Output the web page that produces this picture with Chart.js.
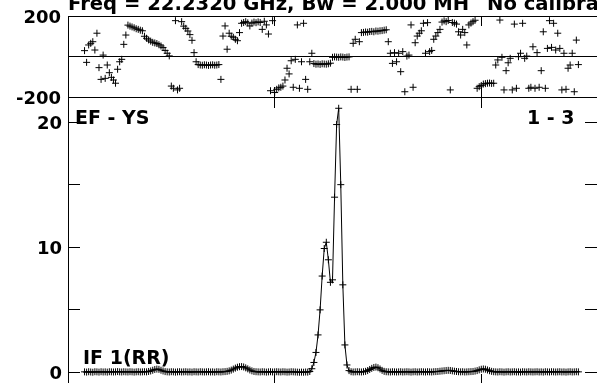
<!DOCTYPE html>
<html>
<head>
<meta charset="utf-8">
<script src="https://cdn.jsdelivr.net/npm/chart.js@4.4.1/dist/chart.umd.min.js"></script>
<style>
  html, body { margin: 0; padding: 0; background: #fff; overflow: hidden; }
  #plot { position: relative; width: 597px; height: 383px; overflow: hidden; background: #fff; }
  canvas { position: absolute; left: 0; }
  #phaseCanvas { top: 0; }
  #ampCanvas { top: 90px; }
  .lbl { position: absolute; font: bold 19px "DejaVu Sans", sans-serif; line-height: 20px; white-space: nowrap; color: #000; }
  .ttl { font-size: 19.6px; }
</style>
</head>
<body>
<div id="plot">
  <canvas id="ampCanvas" width="602" height="300"></canvas>
  <canvas id="phaseCanvas" width="602" height="110"></canvas>
  <div class="lbl ttl" style="left:68px;top:-6px">Freq = 22.2320 GHz, Bw = 2.000 MH</div>
  <div class="lbl ttl" style="left:487px;top:-6px">No calibration</div>
  <div class="lbl" style="left:75px;top:107px">EF - YS</div>
  <div class="lbl" style="left:527px;top:107px">1 - 3</div>
  <div class="lbl" style="left:83px;top:347px">IF 1(RR)</div>
</div>
<script>
// channel numbers run from firstChannel upward, one value per channel
const firstChannel = 8;
const xTickValues = [100, 200];
const phaseTicks = [-200, 0, 200];
const ampTicks = [0, 5, 10, 15, 20];

// phase (deg), channels 8..247
const phaseDeg = [
  29, -29, 57, 65, 73, 32, 115, -55, -113, 7,
  -108, -42, -80, -103, -116, -132, -63, -26, -14, 60,
  106, 155, 150, 146, 142, 137, 134, 130, 127, 100,
  90, 82, 76, 70, 67, 64, 58, 52, 44, 30,
  16, 3, -146, -157, 177, -165, -157, 172, 150, 139,
  126, 108, 80, 19, -26, -40, -42, -43, -41, -42,
  -44, -42, -41, -43, -42, -40, -113, 101, 151, 36,
  115, 100, 95, 85, 78, 118, 164, 168, 172, 166,
  151, 165, 170, 167, 171, 168, 134, 174, 156, 111,
  -169, 177, -178, -162, -155, -152, -146, -116, -58, -86,
  -21, -152, -14, 156, -157, -26, 164, -113, -162, -26,
  16, -35, -38, -37, -39, -36, -37, -38, -36, -33,
  -4, -2, -3, -4, -2, -3, -5, -3, -2, -162,
  65, 85, -162, 73, 118, 119, 121, 120, 123, 124,
  122, 126, 125, 127, 128, 130, 132, 73, 16, -34,
  19, -26, 16, -75, 24, -174, 2, 7, 156, -152,
  68, 101, 115, 127, 164, 16, 167, 24, 30, 85,
  101, 118, 134, 170, 176, 172, 178, -165, 168, 165,
  160, 122, 106, 134, 118, 57, 156, 165, 172, 179,
  -157, -149, -143, -136, -134, -132, -131, -133, -132, -42,
  -17, 180, -4, -165, -70, -31, -9, -165, 160, -157,
  -1, 16, 164, -9, 2, -157, -152, 48, -157, 19,
  -152, -70, 122, -157, 40, 177, 45, 164, 32, 115,
  40, -165, 16, -162, -58, -42, 16, -174, 81, -40
];

// amplitude, channels 8..247
const amplitude = [
  0.05, 0.03, 0.06, 0.04, 0.02, 0.06, 0.05, 0.03, 0.06, 0.04, 0.05, 0.03, 0.06, 0.05, 0.04, 0.05, 0.07, 0.05, 0.04, 0.06, 0.05,
  0.04, 0.06, 0.05, 0.03, 0.05, 0.06, 0.04, 0.05, 0.06, 0.05,
  0.08, 0.12, 0.18, 0.24, 0.27, 0.25, 0.18, 0.12, 0.07,
  0.05, 0.04, 0.06, 0.05, 0.03, 0.05, 0.06, 0.04, 0.05, 0.06,
  0.04, 0.05, 0.03, 0.06, 0.05, 0.04, 0.06, 0.05, 0.04, 0.05,
  0.06, 0.04, 0.05, 0.03, 0.06, 0.05, 0.04, 0.06, 0.07, 0.09,
  0.13, 0.19, 0.27, 0.35, 0.42, 0.46, 0.47, 0.44, 0.37, 0.29, 0.2, 0.13, 0.08,
  0.06, 0.05, 0.04, 0.06, 0.05, 0.03, 0.05, 0.06, 0.04, 0.05,
  0.06, 0.05, 0.04, 0.06, 0.05, 0.03, 0.04, 0.06, 0.05, 0.04,
  0.03, 0.02, 0.03, 0.02, 0.04, 0.03, 0.08,
  0.3,
  0.8, 1.6, 3.0, 5.0, 7.7, 9.9, 10.4, 9.0, 7.2, 7.4, 14.0, 19.8, 21.1, 15.0, 7.0, 2.2, 0.6, 0.15,
  0.06, 0.04, 0.05, 0.06, 0.05, 0.04, 0.06,
  0.09, 0.15, 0.24, 0.33, 0.4, 0.43, 0.38, 0.28, 0.17, 0.09,
  0.06, 0.05, 0.04, 0.06, 0.05, 0.04, 0.05, 0.06, 0.04, 0.05,
  0.06, 0.05, 0.03, 0.05, 0.06, 0.04, 0.05, 0.06, 0.05, 0.04,
  0.06, 0.05, 0.04, 0.06, 0.07, 0.08,
  0.1, 0.12, 0.14, 0.16, 0.17, 0.16, 0.13, 0.1, 0.08,
  0.06, 0.05, 0.06, 0.04, 0.05, 0.06, 0.07, 0.08,
  0.11, 0.15, 0.21, 0.26, 0.28, 0.26, 0.2, 0.14, 0.09, 0.06,
  0.05, 0.04, 0.06, 0.05, 0.03, 0.05, 0.06, 0.04, 0.05, 0.06,
  0.04, 0.05, 0.03, 0.06, 0.05, 0.04, 0.06, 0.05, 0.04, 0.05,
  0.06, 0.04, 0.05, 0.03, 0.06, 0.05, 0.04, 0.06, 0.05, 0.04,
  0.05, 0.06, 0.04, 0.05, 0.03, 0.05, 0.06, 0.04, 0.05, 0.06,
  0.05
];

const tickFont = { family: 'DejaVu Sans', weight: 'bold', size: 18 };

function toPoints(values) {
  return values.map((v, i) => ({ x: firstChannel + i, y: v }));
}

function setTicks(values) {
  return scale => { scale.ticks = values.map(v => ({ value: v })); };
}

// pin a scale's box size and drop the label overhang padding
function pinBox(width, height) {
  return s => {
    if (width !== null) s.width = width;
    if (height !== null) s.height = height;
    s.paddingTop = 0; s.paddingBottom = 0; s.paddingLeft = 0; s.paddingRight = 0;
  };
}

// x axis with short inward ticks, no labels
function channelAxis(position, tickLen) {
  return {
    type: 'linear',
    position: position,
    min: 0,
    max: 256,
    afterBuildTicks: setTicks(xTickValues),
    afterFit: pinBox(null, 0),
    ticks: { display: false },
    grid: { drawOnChartArea: false, drawTicks: true, tickLength: tickLen, tickColor: '#000', tickWidth: 1 },
    border: { display: true, color: '#000', width: 1 }
  };
}

function valueAxis(position, min, max, tickValues, tickLen, opts) {
  return Object.assign({
    type: 'linear',
    position: position,
    min: min,
    max: max,
    afterBuildTicks: setTicks(tickValues),
    afterFit: pinBox(position === 'left' ? 68 : 3, null),
    ticks: { display: false },
    grid: { drawOnChartArea: false, drawTicks: true, tickLength: tickLen, tickColor: '#000', tickWidth: 1 },
    border: { display: true, color: '#000', width: 1 }
  }, opts || {});
}

const common = {
  responsive: false,
  animation: false,
  events: [],
  plugins: { legend: { display: false }, tooltip: { enabled: false }, title: { display: false } }
};

// upper panel: phase
new Chart(document.getElementById('phaseCanvas'), {
  type: 'line',
  data: {
    datasets: [{
      data: toPoints(phaseDeg),
      xAxisID: 'x',
      yAxisID: 'y',
      showLine: false,
      pointStyle: 'cross',
      pointRadius: 3.5,
      pointBorderWidth: 1,
      pointBorderColor: '#000',
      borderColor: '#000',
      clip: 4
    }]
  },
  options: Object.assign({}, common, {
    layout: { padding: { top: 16, bottom: 13, left: 0, right: 0 } },
    scales: {
      x: channelAxis('bottom', -10),
      x2: channelAxis('top', -10),
      y: valueAxis('left', -200, 200, phaseTicks, -10, {
        ticks: { display: true, color: '#000', font: tickFont, padding: 17, labelOffset: 2,
                 callback: v => (v === 0 ? '' : String(v)) },
        grid: { drawOnChartArea: true, drawTicks: true, tickLength: -10, tickColor: '#000', tickWidth: 1, lineWidth: 1,
                color: ctx => (ctx.tick && ctx.tick.value === 0 ? '#000' : 'rgba(0,0,0,0)') }
      }),
      y2: valueAxis('right', -200, 200, phaseTicks, -10)
    }
  })
});

// lower panel: amplitude
new Chart(document.getElementById('ampCanvas'), {
  type: 'line',
  data: {
    datasets: [{
      data: toPoints(amplitude),
      xAxisID: 'x',
      yAxisID: 'y',
      borderColor: '#000',
      borderWidth: 1,
      tension: 0,
      pointStyle: 'cross',
      pointRadius: 3.5,
      pointBorderWidth: 1,
      pointBorderColor: '#000',
      fill: false
    }]
  },
  options: Object.assign({}, common, {
    layout: { padding: { top: 7, bottom: 2, left: 0, right: 0 } },
    scales: {
      x: channelAxis('bottom', -11),
      x2: channelAxis('top', -11),
      y: valueAxis('left', -1, 22, ampTicks, -12, {
        ticks: { display: true, color: '#000', font: tickFont, padding: 18, labelOffset: 2,
                 callback: v => (v % 10 === 0 ? String(v) : '') }
      }),
      y2: valueAxis('right', -1, 22, ampTicks, -12)
    }
  })
});
</script>
</body>
</html>
